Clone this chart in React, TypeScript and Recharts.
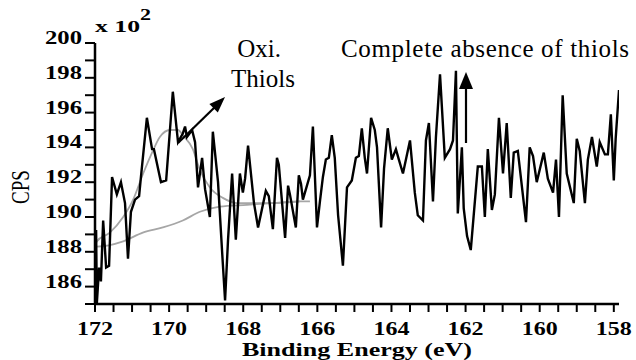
import { Line, LineChart, XAxis, YAxis } from "recharts";

// spectrum (binding energy in eV, counts in units of 100)
const spectrumEnergy: number[] = [
  171.97, 171.95, 171.89, 171.84, 171.78, 171.7, 171.62, 171.54, 171.41, 171.3,
  171.19, 171.11, 171.03, 170.92, 170.81, 170.76, 170.6, 170.46, 170.41, 170.22,
  170.08, 169.9, 169.76, 169.63, 169.57, 169.52, 169.38, 169.3, 169.22, 169.11,
  169.03, 168.9, 168.82, 168.68, 168.57, 168.49, 168.41, 168.3, 168.2, 168.09,
  168.01, 167.95, 167.87, 167.71, 167.6, 167.39, 167.31, 167.2, 167.09, 167.04,
  166.87, 166.79, 166.74, 166.58, 166.5, 166.44, 166.39, 166.2, 166.12, 166.01,
  165.93, 165.85, 165.77, 165.69, 165.61, 165.53, 165.44, 165.31, 165.2, 165.07,
  164.96, 164.88, 164.8, 164.72, 164.66, 164.55, 164.45, 164.39, 164.28, 164.2,
  164.1, 163.99, 163.88, 163.8, 163.69, 163.5, 163.37, 163.29, 163.15, 163.07,
  162.99, 162.88, 162.8, 162.69, 162.56, 162.42, 162.34, 162.26, 162.21, 162.1,
  162.05, 161.96, 161.86, 161.67, 161.56, 161.48, 161.4, 161.29, 161.21, 161.1,
  160.99, 160.89, 160.78, 160.7, 160.59, 160.37, 160.27, 160.18, 160.08, 159.89,
  159.78, 159.64, 159.56, 159.48, 159.38, 159.27, 159.08, 159.0, 158.92, 158.78,
  158.7, 158.59, 158.46, 158.38, 158.24, 158.16, 158.08, 158.0, 157.95, 157.86,
];
const spectrumCounts: number[] = [
  189.25, 185.05, 187.1, 186.3, 189.8, 187.1, 187.2, 192.3, 191.3, 192.0,
  190.8, 187.6, 190.3, 191.0, 191.2, 192.3, 195.7, 193.9, 193.9, 192.0,
  192.1, 197.2, 194.3, 194.8, 195.2, 194.6, 195.0, 194.3, 191.7, 193.4,
  191.6, 190.0, 194.9, 192.0, 188.0, 185.2, 188.7, 192.5, 188.7, 192.5,
  191.4, 192.2, 194.1, 190.8, 189.4, 191.5, 191.2, 189.3, 193.4, 193.0,
  188.8, 191.8, 191.3, 189.4, 192.4, 191.9, 191.0, 192.4, 195.2, 189.4,
  190.9, 192.3, 193.3, 193.4, 194.7, 193.4, 190.1, 187.2, 191.7, 192.1,
  193.4, 193.5, 195.1, 193.4, 192.5, 195.7, 195.0, 194.0, 189.4, 192.8,
  195.1, 193.3, 193.9, 193.3, 192.5, 194.4, 191.4, 190.1, 189.8, 194.4,
  195.4, 190.9, 194.6, 198.2, 193.4, 193.9, 194.4, 198.4, 190.2, 194.0,
  190.5, 188.9, 188.1, 192.9, 192.9, 190.0, 193.9, 190.4, 191.3, 195.7,
  192.5, 195.4, 191.1, 193.7, 193.8, 189.7, 194.0, 193.5, 192.0, 193.7,
  192.2, 191.4, 193.3, 190.0, 197.0, 192.5, 190.8, 194.5, 193.8, 190.8,
  193.3, 194.6, 192.9, 194.3, 193.6, 193.6, 195.9, 192.1, 194.5, 197.3,
];

// fitted oxidised-thiol envelope and background (grey)
const fitEnergy: number[] = [
  172.0, 171.95, 171.6, 171.24, 170.97, 170.7, 170.46, 170.25, 169.98, 169.76,
  169.63, 169.36, 169.17, 168.9, 168.55, 168.17, 167.74, 167.2, 166.47,
];
const fitCounts: number[] = [
  188.4, 188.6, 189.1, 190.0, 191.0, 192.5, 193.7, 194.6, 195.0, 195.0,
  194.7, 193.9, 192.7, 191.7, 191.1, 190.8, 190.8, 190.8, 190.9,
];
const baseEnergy: number[] = [
  172.0, 171.95, 171.24, 170.71, 170.17, 169.63, 169.17, 168.63, 167.9, 167.2,
  166.47, 166.2,
];
const baseCounts: number[] = [
  188.3, 188.3, 188.6, 189.1, 189.4, 189.8, 190.3, 190.6, 190.7, 190.8, 190.9,
  190.9,
];

const xTicks: number[] = [
  158, 158.5, 159, 159.5, 160, 160.5, 161, 161.5, 162, 162.5, 163, 163.5, 164,
  164.5, 165, 165.5, 166, 166.5, 167, 167.5, 168, 168.5, 169, 169.5, 170,
  170.5, 171, 171.5, 172,
];
const yTicks: number[] = [
  185, 186, 187, 188, 189, 190, 191, 192, 193, 194, 195, 196, 197, 198, 199,
  200,
];

const spectrum = spectrumEnergy.map((x, i) => ({ x, y: spectrumCounts[i] }));
const fit = fitEnergy.map((x, i) => ({ x, y: fitCounts[i] }));
const base = baseEnergy.map((x, i) => ({ x, y: baseCounts[i] }));

const serif = "'Liberation Serif', 'Times New Roman', serif";

const XTick = (props: any) => {
  const { x, y, payload } = props;
  if (payload.value % 2 !== 0) return null;
  return (
    <text
      x={x}
      y={y + 19}
      textAnchor="middle"
      fontFamily={serif}
      fontWeight={700}
      fontSize={18}
      textLength={36}
      lengthAdjust="spacingAndGlyphs"
      fill="#000"
    >
      {payload.value}
    </text>
  );
};

const YTick = (props: any) => {
  const { x, y, payload } = props;
  if (payload.value % 2 !== 0) return null;
  return (
    <text
      x={x}
      y={y + 1}
      textAnchor="end"
      fontFamily={serif}
      fontWeight={700}
      fontSize={18}
      textLength={37}
      lengthAdjust="spacingAndGlyphs"
      fill="#000"
    >
      {payload.value}
    </text>
  );
};

export default function App() {
  return (
    <div
      style={{
        position: "absolute",
        left: 0,
        top: 0,
        width: 636,
        height: 360,
        background: "#fff",
        overflow: "hidden",
      }}
    >
      <LineChart
        width={636}
        height={360}
        margin={{ top: 43, right: 17, bottom: 16, left: 15 }}
      >
        <XAxis
          type="number"
          dataKey="x"
          domain={[157.86, 172]}
          reversed
          allowDataOverflow
          ticks={xTicks}
          interval={0}
          height={40}
          tickSize={8}
          tickMargin={4}
          axisLine={{ stroke: "#000", strokeWidth: 2.5 }}
          tickLine={{ stroke: "#000", strokeWidth: 2 }}
          tick={<XTick />}
        />
        <YAxis
          type="number"
          dataKey="y"
          domain={[185, 200]}
          allowDataOverflow
          ticks={yTicks}
          interval={0}
          width={80}
          tickSize={10}
          tickMargin={3}
          axisLine={{ stroke: "#000", strokeWidth: 2.5 }}
          tickLine={{ stroke: "#000", strokeWidth: 2 }}
          tick={<YTick />}
        />
        <Line
          data={base}
          dataKey="y"
          type="monotone"
          stroke="#a6a6a6"
          strokeWidth={1.8}
          dot={false}
          isAnimationActive={false}
        />
        <Line
          data={fit}
          dataKey="y"
          type="monotone"
          stroke="#a6a6a6"
          strokeWidth={1.8}
          dot={false}
          isAnimationActive={false}
        />
        <Line
          data={spectrum}
          dataKey="y"
          type="linear"
          stroke="#000"
          strokeWidth={2.4}
          strokeLinejoin="miter"
          dot={false}
          isAnimationActive={false}
        />
      </LineChart>

      <svg
        width={636}
        height={360}
        style={{ position: "absolute", left: 0, top: 0, pointerEvents: "none" }}
      >
        <text
          x={95}
          y={32}
          fontFamily={serif}
          fontWeight={700}
          fontSize={16}
          textLength={45}
          lengthAdjust="spacingAndGlyphs"
        >
          x 10
        </text>
        <text
          x={140}
          y={20}
          fontFamily={serif}
          fontWeight={700}
          fontSize={16}
          textLength={11}
          lengthAdjust="spacingAndGlyphs"
        >
          2
        </text>
        <text
          transform="translate(29,187) scale(1.3,1) rotate(-90)"
          textAnchor="middle"
          fontFamily={serif}
          fontSize={19}
        >
          CPS
        </text>
        <text
          x={357}
          y={356}
          textAnchor="middle"
          fontFamily={serif}
          fontWeight={700}
          fontSize={18}
          textLength={230}
          lengthAdjust="spacingAndGlyphs"
        >
          Binding Energy (eV)
        </text>
        <text x={259} y={57} textAnchor="middle" fontFamily={serif} fontSize={25}>
          Oxi.
        </text>
        <text x={263} y={87} textAnchor="middle" fontFamily={serif} fontSize={25}>
          Thiols
        </text>
        <text x={341} y={57} fontFamily={serif} fontSize={25} textLength={288}>
          Complete absence of thiols
        </text>
        <line x1={178} y1={143} x2={216} y2={106} stroke="#000" strokeWidth={2.2} />
        <polygon points="225,97 217.8,112.5 209.4,103.9" fill="#000" />
        <line x1={466} y1={143} x2={466} y2={86} stroke="#000" strokeWidth={2.2} />
        <polygon points="466,72 459,89 473,89" fill="#000" />
      </svg>
    </div>
  );
}
